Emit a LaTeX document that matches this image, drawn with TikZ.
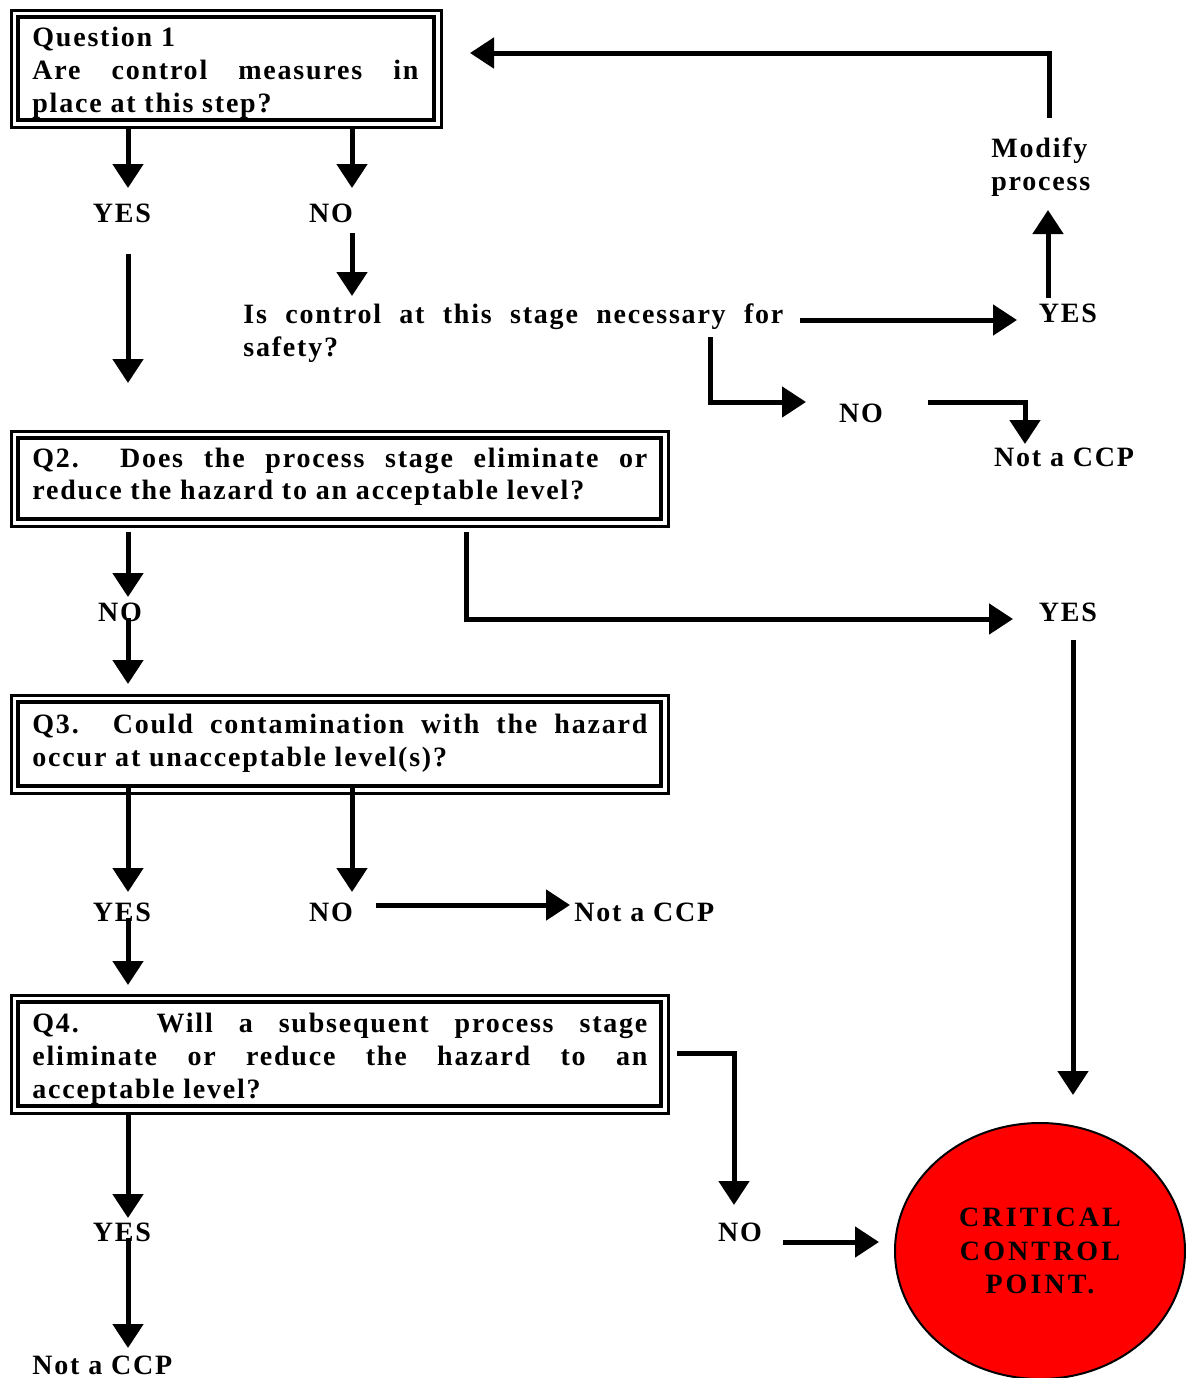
\documentclass[tikz,border=0pt]{standalone}
\usepackage{fontspec}
\setmainfont{Liberation Serif}
\newfontfamily\flowfont{Liberation Serif}[LetterSpace=6.4]
\newfontfamily\ccpfont{Liberation Serif}[LetterSpace=11]
\usetikzlibrary{arrows.meta,fit,shapes.geometric}
% a line of text stretched to a given width
\newcommand\spreadline[2]{\makebox[#1][s]{#2}}
\begin{document}
\begin{tikzpicture}[x=0.5pt,y=-0.5pt,
  flowtext/.style={font=\flowfont\bfseries\fontsize{14}{16.5}\selectfont},
  txt/.style={flowtext, inner sep=0pt, anchor=base west},
  lbl/.style={flowtext, inner sep=0pt, anchor=base},
  inbox/.style={draw, rectangle, line width=2.2pt, inner sep=0pt, outer sep=0pt},
  outbox/.style={draw, rectangle, line width=1.5pt, inner sep=3.5pt, outer sep=0pt},
  arr/.style={line width=2.5pt, line join=miter, -{Triangle[width=15pt,length=12pt]}},
]
\useasboundingbox (0,0) rectangle (1186,1378);

% ---------- question boxes (double frame) ----------
\node[inbox, minimum width=208pt,   minimum height=51.5pt] (q1) at (226,68.5) {};
\node[outbox, fit=(q1)] (q1o) {};
\node[inbox, minimum width=321.5pt, minimum height=40.5pt] (q2) at (339.5,478.5) {};
\node[outbox, fit=(q2)] (q2o) {};
\node[inbox, minimum width=321.5pt, minimum height=42pt]   (q3) at (339.5,744) {};
\node[outbox, fit=(q3)] (q3o) {};
\node[inbox, minimum width=321.5pt, minimum height=52pt]   (q4) at (339.5,1054) {};
\node[outbox, fit=(q4)] (q4o) {};

% ---------- question texts ----------
\node[txt] (q1a) at (32,46)  {Question 1};
\node[txt] (q1b) at (32,79)  {\spreadline{193pt}{Are control measures in}};
\node[txt] (q1c) at (32,112) {place at this step?};

\node[txt] (q2a) at (32,467) {\spreadline{307.5pt}{Q2.~~Does the process stage eliminate or}};
\node[txt] (q2b) at (32,499) {reduce the hazard to an acceptable level?};

\node[txt] (q3a) at (32,733) {\spreadline{307.5pt}{Q3.~~Could contamination with the hazard}};
\node[txt] (q3b) at (32,766) {occur at unacceptable level(s)?};

\node[txt] (q4a) at (32,1032) {\spreadline{307.5pt}{Q4.~~~Will a subsequent process stage}};
\node[txt] (q4b) at (32,1065) {\spreadline{307.5pt}{eliminate or reduce the hazard to an}};
\node[txt] (q4c) at (32,1098) {acceptable level?};

\node[txt] (nec1) at (243,323) {\spreadline{270pt}{Is control at this stage necessary for}};
\node[txt] (nec2) at (243,356) {safety?};

\node[txt] (mod1) at (991,157) {Modify};
\node[txt] (mod2) at (991,190) {process};

% ---------- answer labels ----------
\node[lbl] (yes1) at (122,222)  {YES};
\node[lbl] (no1)  at (331,222)  {NO};
\node[lbl] (yes2) at (1068,322) {YES};
\node[lbl] (no2)  at (861,422)  {NO};
\node[lbl] (ncp1) at (1064,466) {Not a CCP};
\node[lbl] (no3)  at (120,621)  {NO};
\node[lbl] (yes3) at (1068,621) {YES};
\node[lbl] (yes4) at (122,921)  {YES};
\node[lbl] (no4)  at (331,921)  {NO};
\node[txt] (ncp2) at (574,921)  {Not a CCP};
\node[lbl] (no5)  at (740,1241) {NO};
\node[lbl] (yes5) at (122,1241) {YES};
\node[txt] (ncp3) at (32,1374)  {Not a CCP};

% ---------- critical control point ----------
\node[ellipse, draw, line width=1pt, fill=red, inner sep=0pt,
      minimum width=145pt, minimum height=128pt, align=center,
      font=\ccpfont\bfseries\fontsize{14}{16.75}\selectfont]
  (ccp) at (1040,1251) {CRITICAL\\CONTROL\\POINT.};

% ---------- connector end points ----------
\coordinate (t1) at (128,188);
\coordinate (t2) at (352,188);
\coordinate (s3) at (352,233);  \coordinate (t3) at (352,296);
\coordinate (s4) at (128,254);  \coordinate (t4) at (128,383);
\coordinate (s5) at (800,320);  \coordinate (t5) at (1017,320);
\coordinate (s6) at (1048,298); \coordinate (t6) at (1048,210);
\coordinate (s7) at (1049,118); \coordinate (b7) at (1049,53); \coordinate (t7) at (470,53);
\coordinate (s8) at (710,337);  \coordinate (b8) at (710,402); \coordinate (t8) at (806,402);
\coordinate (s9) at (928,402);  \coordinate (b9) at (1025,402); \coordinate (t9) at (1025,444);
\coordinate (s10) at (128,532); \coordinate (t10) at (128,597);
\coordinate (s11) at (128,618); \coordinate (t11) at (128,684);
\coordinate (s12) at (466,532); \coordinate (b12) at (466,619); \coordinate (t12) at (1013,619);
\coordinate (s13) at (1073,640); \coordinate (t13) at (1073,1095);
\coordinate (t14) at (128,892);
\coordinate (t15) at (352,892);
\coordinate (s16) at (128,918); \coordinate (t16) at (128,985);
\coordinate (s17) at (376,905); \coordinate (t17) at (570,905);
\coordinate (s18) at (677,1053); \coordinate (b18) at (734,1053); \coordinate (t18) at (734,1205);
\coordinate (s19) at (783,1242); \coordinate (t19) at (879,1242);
\coordinate (t20) at (128,1218);
\coordinate (s21) at (128,1238); \coordinate (t21) at (128,1348);

% ---------- connectors ----------
\draw[arr] (q1o.south -| t1) -- (t1);
\draw[arr] (q1o.south -| t2) -- (t2);
\draw[arr] (s3) -- (t3);
\draw[arr] (s4) -- (t4);
\draw[arr] (s5) -- (t5);
\draw[arr] (s6) -- (t6);
\draw[arr] (s7) -- (b7) -- (t7);
\draw[arr] (s8) -- (b8) -- (t8);
\draw[arr] (s9) -- (b9) -- (t9);
\draw[arr] (s10) -- (t10);
\draw[arr] (s11) -- (t11);
\draw[arr] (s12) -- (b12) -- (t12);
\draw[arr] (s13) -- (t13);
\draw[arr] (q3.south -| t14) -- (t14);
\draw[arr] (q3.south -| t15) -- (t15);
\draw[arr] (s16) -- (t16);
\draw[arr] (s17) -- (t17);
\draw[arr] (s18) -- (b18) -- (t18);
\draw[arr] (s19) -- (t19);
\draw[arr] (q4o.south -| t20) -- (t20);
\draw[arr] (s21) -- (t21);
\end{tikzpicture}
\end{document}
